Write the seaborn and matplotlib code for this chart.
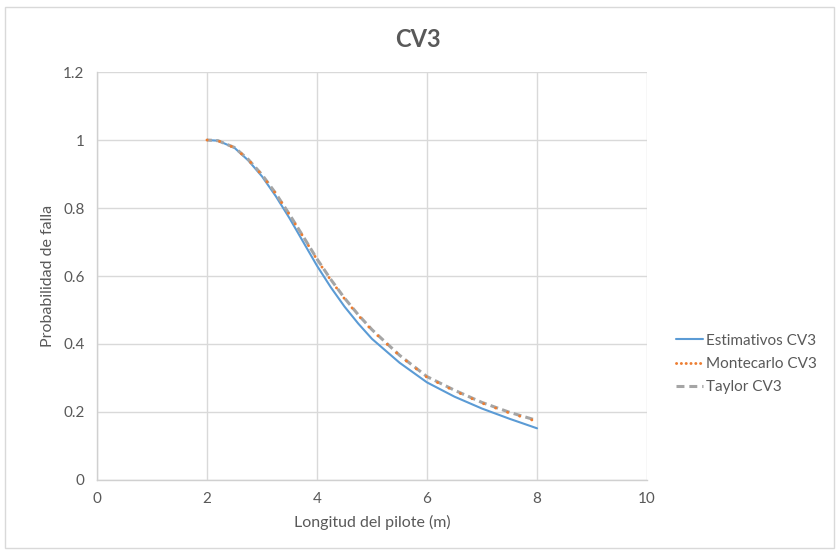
import matplotlib
matplotlib.use("Agg")
import matplotlib.pyplot as plt
import seaborn as sns
import pandas as pd
from matplotlib.patches import Rectangle

# Pile length (m)
longitud = [2.0, 2.2, 2.5, 2.75, 3.0, 3.25, 3.5, 3.75, 4.0, 4.25, 4.5, 4.75,
            5.0, 5.5, 6.0, 6.5, 7.0, 7.5, 8.0]

# Failure probability for each method
estimativos = [1.0, 0.998, 0.977, 0.940, 0.893, 0.835, 0.770, 0.700, 0.630,
               0.567, 0.510, 0.460, 0.415, 0.345, 0.287, 0.245, 0.210, 0.180, 0.152]
montecarlo = [1.0, 0.998, 0.977, 0.942, 0.897, 0.842, 0.780, 0.715, 0.648,
              0.588, 0.533, 0.484, 0.440, 0.366, 0.302, 0.262, 0.226, 0.197, 0.172]
taylor = [1.0, 0.998, 0.978, 0.943, 0.898, 0.843, 0.781, 0.716, 0.650,
          0.590, 0.535, 0.486, 0.442, 0.367, 0.304, 0.264, 0.228, 0.199, 0.175]

series_names = ["Estimativos CV3", "Montecarlo CV3", "Taylor CV3"]
x_ticks = [0, 2, 4, 6, 8, 10]
y_ticks = [0, 0.2, 0.4, 0.6, 0.8, 1.0, 1.2]

sns.set_theme(style="white")
plt.rcParams["font.family"] = ["Lato", "DejaVu Sans"]

text_color = "#595959"
grid_color = "#D9D9D9"

df = pd.concat([
    pd.DataFrame({"x": longitud, "y": estimativos, "serie": series_names[0]}),
    pd.DataFrame({"x": longitud, "y": montecarlo, "serie": series_names[1]}),
    pd.DataFrame({"x": longitud, "y": taylor, "serie": series_names[2]}),
])

fig = plt.figure(figsize=(8.36, 5.54), dpi=100)
ax = fig.add_axes([0.116, 0.1336, 0.658, 0.7364])

palette = {series_names[0]: "#5B9BD5", series_names[1]: "#ED7D31", series_names[2]: "#A5A5A5"}

sns.lineplot(data=df, x="x", y="y", hue="serie", palette=palette, ax=ax,
             linewidth=1.5, sort=False, legend=False)

# Line styles: solid, round dots, dashes
lines = ax.get_lines()
lines[1].set_linewidth(2.1)
lines[1].set_linestyle((0, (0.05, 4.3)))
lines[1].set_dash_capstyle("round")
lines[1].set_zorder(5)
lines[2].set_linewidth(2.2)
lines[2].set_linestyle((1.0, (2.6, 1.4)))
lines[2].set_dash_capstyle("butt")
lines[2].set_zorder(4)

ax.set_xlim(0, 10)
ax.set_ylim(0, 1.2)
ax.set_xticks(x_ticks)
ax.set_xticklabels([str(v) for v in x_ticks])
ax.set_yticks(y_ticks)
ax.set_yticklabels(["0", "0.2", "0.4", "0.6", "0.8", "1", "1.2"])
ax.grid(True, color=grid_color, linewidth=1.0)
ax.set_axisbelow(True)
for side in ["top", "right"]:
    ax.spines[side].set_visible(False)
for side in ["left", "bottom"]:
    ax.spines[side].set_color("#D0D0D0")
    ax.spines[side].set_linewidth(1.0)
ax.tick_params(axis="both", length=0, labelsize=11, colors=text_color, pad=9)
ax.set_xlabel("Longitud del pilote (m)", fontsize=11.5, color=text_color, labelpad=6)
ax.set_ylabel("Probabilidad de falla", fontsize=11.5, color=text_color, labelpad=6)

fig.text(0.5, 0.928, "CV3", ha="center", va="center", fontsize=17,
         fontweight="bold", color=text_color)

handles = [plt.Line2D([], [], color="#5B9BD5", linewidth=1.5),
           plt.Line2D([], [], color="#ED7D31", linewidth=2.1,
                      linestyle=(0, (0.05, 1.6)), dash_capstyle="round"),
           plt.Line2D([], [], color="#A5A5A5", linewidth=2.2,
                      linestyle=(0, (2.6, 1.6)))]
leg = fig.legend(handles, series_names, loc="center left",
                 bbox_to_anchor=(0.792, 0.343), frameon=False,
                 fontsize=11, handlelength=1.8, handletextpad=0.15,
                 labelspacing=0.6)
for t in leg.get_texts():
    t.set_color(text_color)

# Chart area border
fig.patches.append(Rectangle((0.006, 0.01), 0.992, 0.977, transform=fig.transFigure,
                             fill=False, edgecolor="#D9D9D9", linewidth=1.0))

fig.savefig("out.png", dpi=100)
